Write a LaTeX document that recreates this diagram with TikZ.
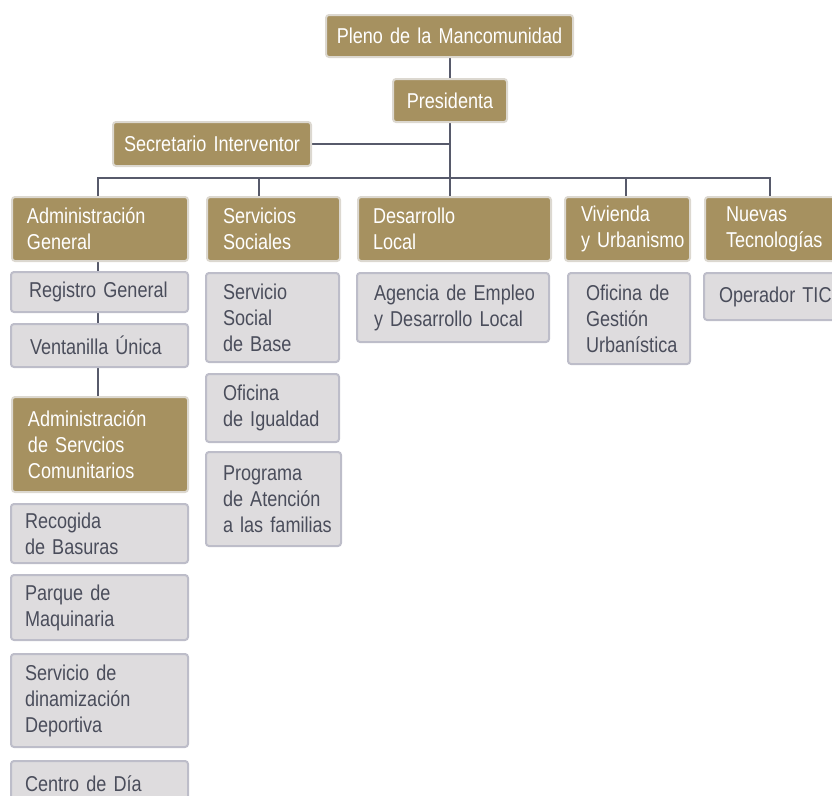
\documentclass[tikz,border=0pt]{standalone}
\usepackage{fontspec}
\setmainfont{Liberation Sans}[FakeStretch=0.84, WordSpace=0.85]
\usetikzlibrary{backgrounds}
\definecolor{goldfill}{HTML}{A69160}
\definecolor{goldedge}{HTML}{DCD8D0}
\definecolor{greyfill}{HTML}{DEDCDE}
\definecolor{greyedge}{HTML}{BDBDC9}
\definecolor{greytext}{HTML}{4A4D5B}
\definecolor{linecol}{HTML}{575A6B}
\begin{document}
\begin{tikzpicture}[x=1pt,y=-1pt,
  box/.style={rounded corners=3pt, line width=2pt, inner xsep=0pt, inner ysep=0pt,
    anchor=north west, font=\fontsize{21.5}{26}\selectfont},
  gold/.style={box, fill=goldfill, draw=goldedge, text=white},
  grey/.style={box, fill=greyfill, draw=greyedge, text=greytext},
  dims/.style n args={3}{text width=#1pt, minimum height=#2pt, align=left,
    execute at begin node={\leftskip=#3pt\relax}},
  cdims/.style 2 args={text width=#1pt, minimum height=#2pt, align=center},
  conn/.style={draw=linecol, line width=2.9pt}]
\useasboundingbox (0,0) rectangle (832,795);
\clip (0,0) rectangle (832,795);

% top
\node[gold, cdims={247}{42}] (pleno) at (325,14) {Pleno de la Mancomunidad};
\node[gold, cdims={114}{43}] (pres) at (392,78) {Presidenta};
\node[gold, cdims={198}{44}] (secr) at (112,121) {Secretario Interventor};

% departments
\node[gold, dims={176}{64}{15}] (admg) at (11,196) {Administración\\General};
\node[gold, dims={133}{64}{16}] (sers) at (206,196) {Servicios\\Sociales};
\node[gold, dims={193}{64}{15}] (desl) at (357,196) {Desarrollo\\Local};
\node[gold, dims={125}{64}{16}] (vivu) at (564,196) {Vivienda\\y Urbanismo};
\node[gold, dims={140}{64}{21}] (nuet) at (704,196) {Nuevas\\Tecnologías};

% column 1
\node[grey, dims={177}{40}{18}] (regg) at (10,271) {Registro General};
\node[grey, dims={177}{43}{19}] (vent) at (10,323) {Ventanilla Única};
\node[gold, dims={176}{95}{16}] (adsc) at (11,396) {Administración\\de Servcios\\Comunitarios};
\node[grey, dims={177}{59}{14}] (recb) at (10,503) {Recogida\\de Basuras};
\node[grey, dims={177}{65}{14}] (parq) at (10,574) {Parque de\\Maquinaria};
\node[grey, dims={177}{93}{14}] (sdin) at (10,653) {Servicio de\\dinamización\\Deportiva};
\node[grey, dims={177}{45}{14}] (cdia) at (10,760) {Centro de Día};

% column 2
\node[grey, dims={133}{89}{17}] (ssba) at (205,272) {Servicio\\Social\\de Base};
\node[grey, dims={133}{68}{17}] (oigu) at (205,373) {Oficina\\de Igualdad};
\node[grey, dims={135}{94}{17}] (prog) at (205,451) {Programa\\de Atención\\a las familias};

% other columns
\node[grey, dims={192}{69}{17}] (agen) at (356,272) {Agencia de Empleo\\y Desarrollo Local};
\node[grey, dims={122}{91}{18}] (ofgu) at (567,272) {Oficina de\\Gestión\\Urbanística};
\node[grey, dims={140}{47}{15}] (otic) at (703,272) {Operador TIC};

% connectors
\coordinate (bar1) at (98,178);
\coordinate (bar2) at (259,178);
\coordinate (bar4) at (626,178);
\coordinate (bar5) at (770,178);
\begin{scope}[on background layer]
\draw[conn] (pres.north |- pleno.south) -- (pres.north);
\draw[conn] (pres.south) -- (pres.south |- desl.north);
\draw[conn] (secr.east) -- (secr.east -| pres.south);
\draw[conn] (bar1 |- admg.north) -- (bar1) -- (bar5) -- (bar5 |- nuet.north);
\draw[conn] (bar2) -- (bar2 |- sers.north);
\draw[conn] (bar4) -- (bar4 |- vivu.north);
\draw[conn] (bar1 |- admg.south) -- (bar1 |- adsc.north);
\end{scope}
\end{tikzpicture}
\end{document}
